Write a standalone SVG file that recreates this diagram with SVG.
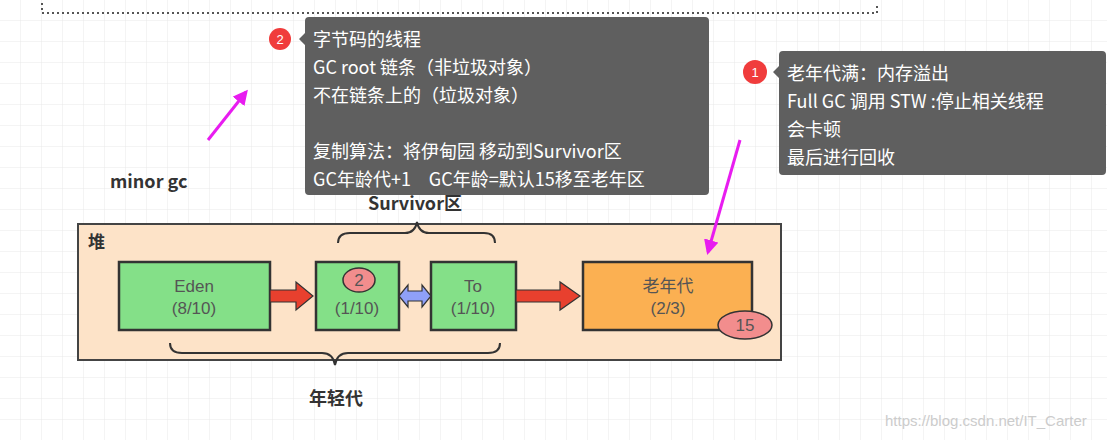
<svg xmlns="http://www.w3.org/2000/svg" width="1107" height="440" viewBox="0 0 1107 440">
<style>
.tip{fill:#5f5f5f}
.tt{font-family:"Noto Sans CJK SC","Liberation Sans",sans-serif;font-size:18px;fill:#fff}
.box{stroke:#333;stroke-width:2.5}
.lbl{font-family:"Liberation Sans","Noto Sans CJK SC",sans-serif;font-size:17px;fill:#555;text-anchor:middle}
.bold{font-family:"Noto Sans CJK SC","Liberation Sans",sans-serif;font-weight:bold;fill:#333}
.badge{fill:#f03c3c}
.bt{font-family:"Liberation Sans",sans-serif;font-size:13px;fill:#fff;text-anchor:middle}
.brace{fill:none;stroke:#333;stroke-width:2}
</style>
<defs>
<pattern id="grid" width="21" height="21" patternUnits="userSpaceOnUse"><path d="M21 0V21H0" fill="none" stroke="#e8e8e8" stroke-width="1"/></pattern>
<marker id="mg" viewBox="0 0 10 10" refX="8" refY="5" markerWidth="5" markerHeight="5" orient="auto"><path d="M0 0L10 5L0 10z" fill="#e81cf0"/></marker>
</defs>
<rect width="1107" height="440" fill="#fff"/>
<rect width="1107" height="440" fill="url(#grid)"/>
<path d="M42 3V13H877V3" fill="none" stroke="#555" stroke-width="2" stroke-dasharray="2 3"/>
<g id="heap">
<rect x="78" y="224" width="703" height="136" fill="#fde3c8" stroke="#444" stroke-width="2"/>
<text x="88" y="248" class="bold" font-size="17">堆</text>
</g>
<g id="eden"><rect class="box" x="119" y="262" width="151" height="68" fill="#84e088"/><text class="lbl" x="194" y="292">Eden</text><text class="lbl" x="194" y="314">(8/10)</text></g>
<g id="from"><rect class="box" x="316" y="262" width="83" height="68" fill="#84e088"/><text class="lbl" x="357" y="314">(1/10)</text>
<ellipse cx="359" cy="280" rx="16" ry="12" fill="#f28d8d" stroke="#333" stroke-width="1.5"/><text class="lbl" x="359" y="286">2</text></g>
<g id="to"><rect class="box" x="431" y="262" width="85" height="68" fill="#84e088"/><text class="lbl" x="473" y="292">To</text><text class="lbl" x="473" y="314">(1/10)</text></g>
<g id="old"><rect class="box" x="583" y="262" width="169" height="68" fill="#fbb052"/><text class="lbl" x="668" y="292">老年代</text><text class="lbl" x="668" y="314">(2/3)</text>
<ellipse cx="745" cy="325" rx="27" ry="14" fill="#f28d8d" stroke="#333" stroke-width="1.5"/><text class="lbl" x="745" y="331">15</text></g>
<g id="connectors">
<path d="M270 290H296V282L313 296L296 310V302H270z" fill="#e8402e" stroke="#333" stroke-width="1.2"/>
<path d="M399 296L408 285V291H422V285L431 296L422 307V301H408V307z" fill="#8fa0f8" stroke="#333" stroke-width="1.2"/>
<path d="M516 290H560V282L580 296L560 310V302H516z" fill="#e8402e" stroke="#333" stroke-width="1.2"/>
<path d="M208 140L246 92" stroke="#e81cf0" stroke-width="3" marker-end="url(#mg)"/>
<path d="M740 140L708 252" stroke="#e81cf0" stroke-width="3" marker-end="url(#mg)"/>
<path class="brace" d="M338 243Q338 233 350 233H405Q415 233 417 222Q419 233 429 233H484Q495 233 495 243"/>
<path class="brace" d="M170 343Q170 353 182 353H322Q333 353 335 365Q337 353 348 353H488Q500 353 500 343"/>
</g>
<text x="110" y="188" class="bold" font-size="18">minor gc</text>
<text x="415" y="210" class="bold" font-size="18" text-anchor="middle">Survivor区</text>
<text x="336" y="405" class="bold" font-size="18" text-anchor="middle">年轻代</text>
<g id="tip2">
<path class="tip" d="M309 17H705Q709 17 709 21V191Q709 195 705 195H309Q305 195 305 191V45L299 39L305 33V21Q305 17 309 17z"/>
<circle class="badge" cx="280" cy="39" r="11"/><text class="bt" x="280" y="44">2</text>
<text class="tt" x="313" y="46">字节码的线程</text>
<text class="tt" x="313" y="74">GC root 链条（非垃圾对象）</text>
<text class="tt" x="313" y="102">不在链条上的（垃圾对象）</text>
<text class="tt" x="313" y="158">复制算法：将伊甸园 移动到Survivor区</text>
<text class="tt" x="313" y="186">GC年龄代+1　GC年龄=默认15移至老年区</text>
</g>
<g id="tip1">
<path class="tip" d="M783 51H1102Q1106 51 1106 55V171Q1106 175 1102 175H783Q779 175 779 171V78L773 72L779 66V55Q779 51 783 51z"/>
<circle class="badge" cx="755" cy="72" r="12"/><text class="bt" x="755" y="77">1</text>
<text class="tt" x="787" y="80">老年代满：内存溢出</text>
<text class="tt" x="787" y="108">Full GC 调用 STW :停止相关线程</text>
<text class="tt" x="787" y="136">会卡顿</text>
<text class="tt" x="787" y="164">最后进行回收</text>
</g>
<text x="885" y="426" font-family="Liberation Sans,sans-serif" font-size="15" fill="#ccc">https://blog.csdn.net/IT_Carter</text>
</svg>
